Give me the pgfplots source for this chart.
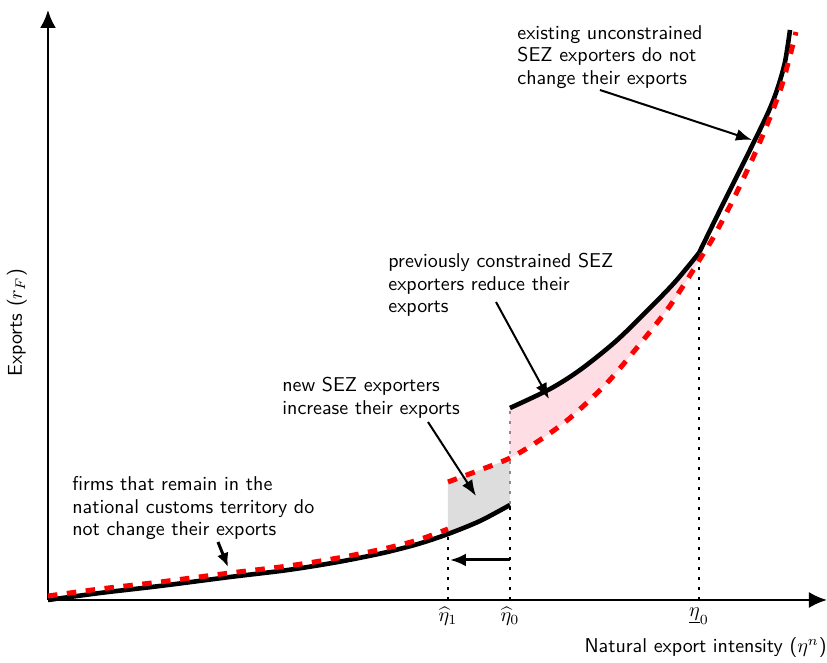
\documentclass[border=0pt]{standalone}
\usepackage{pgfplots}
\pgfplotsset{compat=1.18}
\usepgfplotslibrary{fillbetween}
\usetikzlibrary{arrows.meta}
\definecolor{sezpink}{RGB}{255,221,228}
\definecolor{newgray}{RGB}{221,221,221}
\pgfplotsset{
  blk/.style={black, line width=2.3pt, smooth, tension=0.5},
  rdd/.style={red, line width=2.5pt, smooth, tension=0.5, dash pattern=on 4.75pt off 4.75pt},
}
\begin{document}
\begin{tikzpicture}[font=\sffamily,
  ann/.style={line width=1pt, -{Latex[length=8pt,width=6pt]}},
  dots/.style={line width=1.3pt, dash pattern=on 1.3pt off 3.7pt},
  txt/.style={anchor=north west, inner sep=0pt, align=left, font=\sffamily\fontsize{10}{11.3}\selectfont},
]
\begin{axis}[
  x=0.5pt, y=0.5pt,
  xmin=0, xmax=779, ymin=0, ymax=590,
  axis lines=left,
  axis line style={line width=1.2pt, -{Latex[length=9pt,width=8pt]}},
  xtick={400,462,651},
  xticklabels={$\widehat{\eta}_1$,$\widehat{\eta}_0$,$\underline{\eta}_0$},
  ytick=\empty,
  major tick length=0pt,
  xticklabel style={anchor=north, inner sep=0pt, yshift=-3.5pt},
  clip=false,
]
% dotted guides
\draw[dots] (axis cs:400,0) -- (axis cs:400,66);
\draw[dots] (axis cs:462,0) -- (axis cs:462,95);
\draw[dots] (axis cs:651,0) -- (axis cs:651,342);

% black: before the policy
\addplot[blk, name path=B1] coordinates {
  (0,0) (52,7) (112,14) (182,23) (240,30) (290,38) (335,47) (370,56) (400,66) (432,79) (462,95)};
\addplot[blk, name path=B2] coordinates {
  (462,192) (502,211) (532,230) (567,258) (599,289) (627,318) (651,347)};
\addplot[blk] coordinates {
  (651,347) (675,396) (697,440) (719,485) (729,510) (737,538) (742,570)};

% red dashed: after the policy
\addplot[rdd] coordinates {
  (0,4) (52,11) (112,18) (182,27) (240,34) (290,42) (335,51) (370,60) (400,71)};
\addplot[rdd, name path=R2] coordinates {
  (400,118) (432,130) (462,142) (492,160) (522,182) (559,217) (592,256) (619,290)
  (639,320) (652,341) (665,362) (685,400) (704,440) (719,475) (733,512) (743,548) (748,568)};

% shaded areas
\addplot[newgray, draw=none] fill between[of=R2 and B1, soft clip={domain=400:462}];
\addplot[sezpink, draw=none] fill between[of=B2 and R2, soft clip={domain=462:651}];

\draw[dots, black!45] (axis cs:462,96) -- (axis cs:462,190);

% shift of the cutoff
\draw[line width=1.5pt, -{Latex[length=8pt,width=6.5pt]}] (axis cs:462,40) -- (axis cs:402,40);

% annotations
\node[txt] at (axis cs:469,575) {existing unconstrained\\SEZ exporters do not\\change their exports};
\draw[ann] (axis cs:552,510) -- (axis cs:704,460);
\node[txt] at (axis cs:340,347) {previously constrained SEZ\\exporters reduce their\\exports};
\draw[ann] (axis cs:448,298) -- (axis cs:501,201);
\node[txt] at (axis cs:234,223) {new SEZ exporters\\increase their exports};
\draw[ann] (axis cs:380,178) -- (axis cs:428,104);
\node[txt] at (axis cs:24,124) {firms that remain in the\\national customs territory do\\not change their exports};
\draw[line width=1.5pt, -{Latex[length=7pt,width=6pt]}] (axis cs:170,58) -- (axis cs:180,33);

% axis titles
\node[anchor=base east, inner sep=0pt] at (axis cs:779,-53) {Natural export intensity ($\eta^n$)};
\node[anchor=base, rotate=90, inner sep=0pt] at (axis cs:-26,277) {Exports ($r_F$)};

\coordinate (bbA) at (axis cs:-48,-63);
\coordinate (bbB) at (axis cs:779,600);
\end{axis}
\pgfresetboundingbox
\path (bbA) rectangle (bbB);
\end{tikzpicture}
\end{document}
